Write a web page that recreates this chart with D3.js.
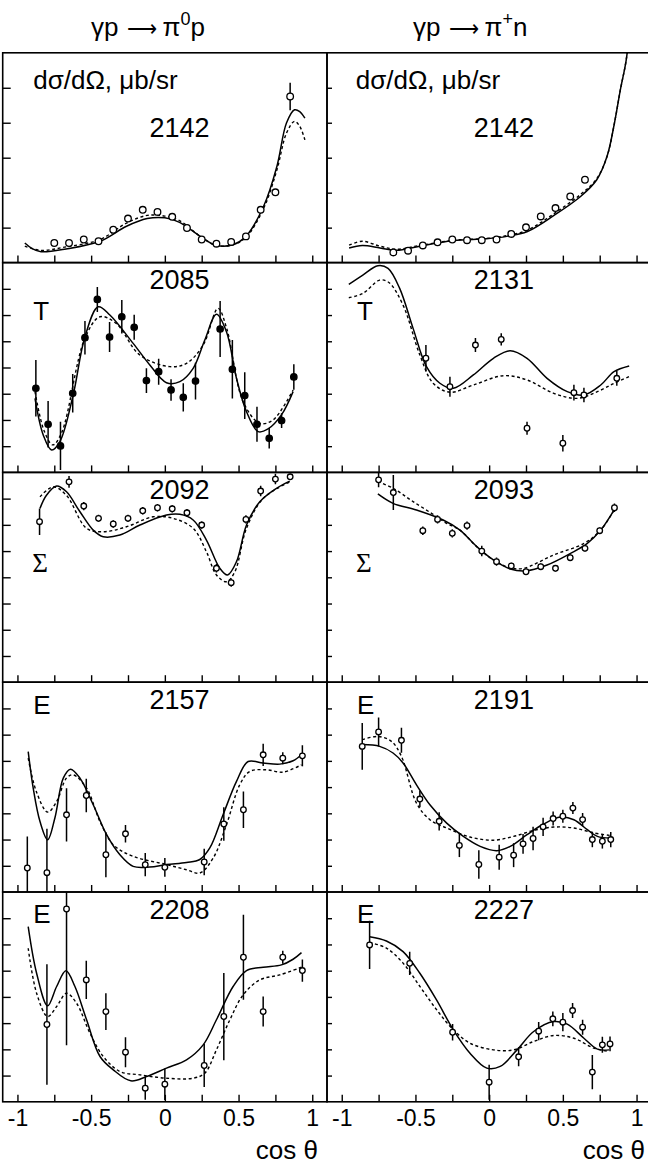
<!DOCTYPE html>
<html>
<head>
<meta charset="utf-8">
<script src="https://cdn.jsdelivr.net/npm/d3@7"></script>
<style>
body { margin: 0; background: #fff; }
svg { display: block; font-family: "Liberation Sans", Arial, sans-serif; }
</style>
</head>
<body>
<svg id="chart" width="648" height="1166"></svg>
<script>
// ---- data (x = cos theta) ----

// gamma p -> pi0 p, dsigma/dOmega, W = 2142
const dsPi0X = [-0.75,-0.65,-0.55,-0.45,-0.35,-0.25,-0.15,-0.05,0.05,0.15,0.25,0.35,0.45,0.55,0.65,0.75,0.85];
const dsPi0Y = [0.056,0.056,0.066,0.061,0.094,0.126,0.151,0.145,0.131,0.099,0.066,0.054,0.059,0.075,0.151,0.201,0.475];
const dsPi0E = [0.005,0.005,0.005,0.005,0.005,0.005,0.005,0.005,0.005,0.005,0.005,0.005,0.005,0.005,0.006,0.008,0.039];
const dsPi0Solid = [[-0.95,0.056],[-0.9,0.04],[-0.84,0.031],[-0.67,0.039],[-0.44,0.061],[-0.26,0.104],[-0.12,0.126],[0,0.128],[0.1,0.115],[0.24,0.075],[0.35,0.049],[0.46,0.051],[0.55,0.075],[0.67,0.161],[0.76,0.275],[0.825,0.399],[0.88,0.437],[0.915,0.432],[0.95,0.413]];
const dsPi0Dash = [[-0.95,0.047],[-0.84,0.035],[-0.67,0.045],[-0.44,0.066],[-0.26,0.113],[-0.12,0.135],[0,0.133],[0.1,0.12],[0.24,0.075],[0.35,0.049],[0.46,0.051],[0.55,0.072],[0.67,0.155],[0.76,0.265],[0.825,0.37],[0.88,0.404],[0.915,0.39],[0.95,0.351]];

// gamma p -> pi+ n, dsigma/dOmega, W = 2142
const dsPipX = [-0.65,-0.55,-0.45,-0.35,-0.25,-0.15,-0.05,0.05,0.15,0.25,0.35,0.45,0.55,0.65];
const dsPipY = [0.029,0.034,0.049,0.058,0.066,0.064,0.064,0.066,0.082,0.101,0.132,0.156,0.189,0.237];
const dsPipE = [0.004,0.004,0.004,0.004,0.004,0.004,0.004,0.004,0.004,0.005,0.005,0.006,0.006,0.007];
const dsPipSolid = [[-0.95,0.042],[-0.86,0.049],[-0.74,0.042],[-0.63,0.035],[-0.47,0.047],[-0.24,0.063],[-0.02,0.068],[0.12,0.075],[0.26,0.089],[0.44,0.135],[0.62,0.189],[0.73,0.237],[0.8,0.304],[0.85,0.399],[0.89,0.494],[0.93,0.58],[0.96,0.7]];
const dsPipDash = [[-0.95,0.05],[-0.86,0.061],[-0.74,0.047],[-0.63,0.038],[-0.47,0.049],[-0.24,0.064],[-0.02,0.069],[0.12,0.077],[0.26,0.093],[0.44,0.14],[0.62,0.195],[0.73,0.24],[0.8,0.304],[0.85,0.399],[0.89,0.494],[0.93,0.58],[0.96,0.7]];

// T, pi0 p, 2085
const tPi0X = [-0.875,-0.792,-0.708,-0.625,-0.542,-0.458,-0.375,-0.292,-0.208,-0.125,-0.042,0.042,0.125,0.208,0.375,0.458,0.542,0.625,0.708,0.792,0.875];
const tPi0Y = [-0.198,-0.541,-0.748,-0.246,0.284,0.649,0.29,0.484,0.383,-0.125,-0.04,-0.214,-0.284,-0.129,0.367,-0.017,-0.268,-0.541,-0.675,-0.506,-0.09];
const tPi0E = [0.27,0.222,0.23,0.183,0.159,0.119,0.143,0.159,0.119,0.119,0.124,0.103,0.135,0.175,0.267,0.278,0.222,0.167,0.098,0.071,0.122];
const tPi0Solid = [[-0.881,-0.294],[-0.825,-0.643],[-0.768,-0.786],[-0.712,-0.706],[-0.622,-0.262],[-0.542,0.293],[-0.452,0.579],[-0.373,0.5],[-0.215,0.23],[-0.102,0.024],[0.011,-0.145],[0.102,-0.135],[0.192,-0.008],[0.271,0.262],[0.35,0.507],[0.418,0.341],[0.486,-0.103],[0.554,-0.421],[0.633,-0.611],[0.7,-0.586],[0.791,-0.452],[0.87,-0.23]];
const tPi0Dash = [[-0.881,-0.23],[-0.82,-0.6],[-0.76,-0.738],[-0.7,-0.62],[-0.542,0.28],[-0.44,0.484],[-0.33,0.42],[-0.17,0.119],[0.034,0.008],[0.147,0.04],[0.26,0.214],[0.361,0.564],[0.42,0.37],[0.531,-0.326],[0.644,-0.532],[0.734,-0.5],[0.87,-0.214]];

// T, pi+ n, 2131
const tPipX = [-0.429,-0.266,-0.093,0.082,0.257,0.5,0.575,0.643,0.866];
const tPipY = [0.088,-0.183,0.214,0.268,-0.579,-0.722,-0.24,-0.262,-0.103];
const tPipE = [0.127,0.095,0.067,0.059,0.063,0.079,0.075,0.07,0.07];
const tPipSolid = [[-0.952,0.792],[-0.857,0.881],[-0.755,0.97],[-0.686,0.945],[-0.607,0.754],[-0.516,0.373],[-0.425,0.008],[-0.334,-0.15],[-0.243,-0.198],[-0.107,-0.071],[0.029,0.088],[0.143,0.16],[0.257,0.088],[0.393,-0.103],[0.53,-0.23],[0.643,-0.262],[0.757,-0.167],[0.847,-0.04],[0.95,0.014]];
const tPipDash = [[-0.952,0.665],[-0.857,0.706],[-0.743,0.833],[-0.68,0.81],[-0.584,0.595],[-0.47,0.119],[-0.38,-0.15],[-0.266,-0.236],[-0.107,-0.167],[0.097,-0.078],[0.257,-0.119],[0.438,-0.246],[0.598,-0.294],[0.734,-0.23],[0.847,-0.151],[0.95,-0.087]];

// Sigma, pi0 p, 2092
const sPi0X = [-0.85,-0.65,-0.55,-0.45,-0.35,-0.25,-0.15,-0.05,0.05,0.15,0.25,0.35,0.45,0.55,0.65,0.75,0.85];
const sPi0Y = [0.53,0.91,0.679,0.562,0.508,0.562,0.634,0.663,0.653,0.615,0.498,0.086,-0.051,0.552,0.822,0.936,0.958];
const sPi0E = [0.127,0.056,0.04,0.035,0.035,0.035,0.035,0.035,0.035,0.035,0.035,0.04,0.04,0.04,0.05,0.05,0.03];
const sPi0Solid = [[-0.847,0.657],[-0.802,0.784],[-0.734,0.87],[-0.667,0.815],[-0.576,0.625],[-0.486,0.45],[-0.418,0.387],[-0.305,0.403],[-0.169,0.498],[0.011,0.593],[0.102,0.6],[0.192,0.546],[0.282,0.355],[0.373,0.086],[0.425,0.022],[0.486,0.149],[0.554,0.498],[0.644,0.72],[0.757,0.848],[0.847,0.917]];
const sPi0Dash = [[-0.847,0.768],[-0.757,0.863],[-0.667,0.78],[-0.531,0.467],[-0.418,0.434],[-0.26,0.482],[-0.079,0.577],[0.056,0.562],[0.192,0.467],[0.282,0.244],[0.35,0.022],[0.418,-0.042],[0.475,0.053],[0.554,0.467],[0.667,0.752],[0.847,0.91]];

// Sigma, pi+ n, 2093
const sPipX = [-0.75,-0.65,-0.45,-0.35,-0.25,-0.15,-0.05,0.05,0.15,0.25,0.35,0.45,0.55,0.65,0.75,0.85];
const sPipY = [0.929,0.808,0.444,0.552,0.419,0.493,0.25,0.149,0.108,0.053,0.101,0.086,0.187,0.276,0.444,0.663];
const sPipE = [0.071,0.167,0.04,0.04,0.04,0.04,0.05,0.04,0.03,0.03,0.03,0.03,0.03,0.03,0.03,0.04];
const sPipSolid = [[-0.755,0.795],[-0.652,0.705],[-0.493,0.641],[-0.312,0.546],[-0.198,0.45],[-0.084,0.292],[0.029,0.165],[0.143,0.079],[0.245,0.06],[0.393,0.117],[0.552,0.228],[0.666,0.323],[0.757,0.45],[0.847,0.64]];
const sPipDash = [[-0.755,0.912],[-0.652,0.849],[-0.516,0.722],[-0.357,0.579],[-0.288,0.514],[-0.198,0.45],[-0.084,0.292],[0.029,0.165],[0.143,0.09],[0.234,0.086],[0.438,0.213],[0.643,0.323],[0.757,0.45],[0.847,0.64]];

// E, pi0 p, 2157
const e1Pi0X = [-0.933,-0.8,-0.667,-0.533,-0.4,-0.267,-0.133,0,0.267,0.4,0.533,0.667,0.8,0.933];
const e1Pi0Y = [-0.771,-0.816,-0.264,-0.08,-0.645,-0.445,-0.74,-0.765,-0.714,-0.352,-0.216,0.308,0.276,0.298];
const e1Pi0E = [0.3,0.42,0.254,0.159,0.214,0.084,0.111,0.09,0.127,0.159,0.175,0.106,0.057,0.1];
const e1Pi0Solid = [[-0.927,0.339],[-0.893,-0.01],[-0.847,-0.328],[-0.795,-0.502],[-0.746,-0.294],[-0.689,0.086],[-0.64,0.171],[-0.576,0.086],[-0.486,-0.168],[-0.395,-0.454],[-0.305,-0.645],[-0.215,-0.756],[-0.102,-0.762],[0.011,-0.738],[0.147,-0.718],[0.237,-0.69],[0.305,-0.58],[0.395,-0.263],[0.486,0.054],[0.565,0.244],[0.667,0.229],[0.78,0.219],[0.87,0.251],[0.927,0.308]];
const e1Pi0Dash = [[-0.927,0.276],[-0.872,-0.042],[-0.795,-0.238],[-0.734,-0.137],[-0.667,0.086],[-0.622,0.117],[-0.531,-0.01],[-0.44,-0.328],[-0.35,-0.55],[-0.215,-0.66],[0.011,-0.738],[0.147,-0.788],[0.237,-0.819],[0.328,-0.676],[0.418,-0.359],[0.508,0.022],[0.576,0.149],[0.69,0.165],[0.802,0.143],[0.927,0.213]];

// E, pi+ n, 2191
const e1PipX = [-0.861,-0.75,-0.595,-0.47,-0.339,-0.202,-0.07,0.068,0.166,0.23,0.298,0.366,0.434,0.5,0.568,0.634,0.7,0.768,0.825];
const e1PipY = [0.388,0.526,0.446,-0.114,-0.326,-0.556,-0.738,-0.668,-0.649,-0.541,-0.49,-0.379,-0.3,-0.278,-0.2,-0.31,-0.5,-0.516,-0.5];
const e1PipE = [0.222,0.138,0.119,0.079,0.087,0.111,0.135,0.119,0.114,0.095,0.111,0.087,0.067,0.063,0.057,0.063,0.073,0.07,0.073];
const e1PipSolid = [[-0.861,0.405],[-0.743,0.388],[-0.652,0.325],[-0.584,0.23],[-0.493,0.022],[-0.402,-0.168],[-0.288,-0.343],[-0.175,-0.47],[-0.061,-0.565],[0.052,-0.606],[0.143,-0.565],[0.257,-0.454],[0.37,-0.352],[0.484,-0.286],[0.575,-0.311],[0.666,-0.406],[0.734,-0.47],[0.825,-0.486]];
const e1PipDash = [[-0.861,0.452],[-0.755,0.483],[-0.663,0.436],[-0.595,0.293],[-0.493,-0.152],[-0.402,-0.311],[-0.288,-0.39],[-0.13,-0.476],[0.029,-0.506],[0.166,-0.47],[0.302,-0.413],[0.438,-0.381],[0.575,-0.39],[0.711,-0.437],[0.825,-0.462]];

// E, pi0 p, 2208
const e2Pi0X = [-0.8,-0.667,-0.533,-0.4,-0.267,-0.133,0,0.267,0.4,0.533,0.667,0.8,0.933];
const e2Pi0Y = [-0.263,0.838,0.162,-0.14,-0.527,-0.87,-0.832,-0.654,-0.187,0.378,-0.14,0.378,0.251];
const e2Pi0E = [0.575,1.3,0.183,0.175,0.143,0.11,0.15,0.206,0.416,0.406,0.143,0.063,0.106];
const e2Pi0Solid = [[-0.927,0.67],[-0.87,0.226],[-0.795,-0.085],[-0.734,0.099],[-0.671,0.25],[-0.61,0.099],[-0.531,-0.218],[-0.44,-0.568],[-0.35,-0.695],[-0.231,-0.8],[-0.124,-0.759],[0.011,-0.679],[0.147,-0.6],[0.26,-0.457],[0.35,-0.218],[0.463,0.099],[0.554,0.251],[0.667,0.283],[0.791,0.305],[0.87,0.359],[0.927,0.422]];
const e2Pi0Dash = [[-0.927,0.464],[-0.87,0.035],[-0.795,-0.187],[-0.734,-0.092],[-0.667,0.035],[-0.599,-0.06],[-0.508,-0.346],[-0.418,-0.568],[-0.305,-0.711],[-0.169,-0.743],[0.011,-0.775],[0.192,-0.775],[0.271,-0.727],[0.35,-0.505],[0.441,-0.219],[0.531,0.019],[0.644,0.162],[0.78,0.21],[0.927,0.283]];

// E, pi+ n, 2227
const e2PipX = [-0.811,-0.539,-0.248,0,0.2,0.336,0.432,0.5,0.566,0.634,0.7,0.768,0.82];
const e2PipY = [0.495,0.32,-0.337,-0.813,-0.571,-0.327,-0.209,-0.241,-0.13,-0.289,-0.717,-0.457,-0.448];
const e2PipE = [0.23,0.111,0.079,0.167,0.09,0.087,0.071,0.087,0.071,0.071,0.163,0.076,0.071];
const e2PipSolid = [[-0.811,0.574],[-0.697,0.533],[-0.584,0.432],[-0.47,0.225],[-0.357,-0.029],[-0.243,-0.314],[-0.13,-0.537],[-0.016,-0.679],[0.075,-0.663],[0.189,-0.505],[0.302,-0.33],[0.438,-0.235],[0.53,-0.26],[0.643,-0.394],[0.734,-0.498],[0.813,-0.505]];
const e2PipDash = [[-0.811,0.519],[-0.697,0.465],[-0.584,0.322],[-0.47,0.1],[-0.357,-0.121],[-0.243,-0.314],[-0.13,-0.441],[0.029,-0.505],[0.166,-0.505],[0.302,-0.425],[0.438,-0.368],[0.575,-0.394],[0.711,-0.489],[0.813,-0.521]];

const colMeson = ["π", "π"];
const colCharge = ["0", "+"];
const colNucleon = ["p", "n"];
const energies = ["2142", "2142", "2085", "2131", "2092", "2093", "2157", "2191", "2208", "2227"];
const xTickLabels = [-1, -0.5, 0, 0.5, 1];
const xTicksAll = [-1, -0.75, -0.5, -0.25, 0, 0.25, 0.5, 0.75, 1];
const dsTicks = [0.1, 0.2, 0.3, 0.4, 0.5];
const polTicks = [-0.75, -0.5, -0.25, 0, 0.25, 0.5, 0.75];

// ---- layout ----
const colX = [[2.7, 327], [327, 651.3]];
const rowTop = 52.8, rowH = 209.8;

const panels = [
  {col: 0, row: 0, ydom: [0, 0.6], yt: dsTicks, X: dsPi0X, Y: dsPi0Y, E: dsPi0E, s: dsPi0Solid, d: dsPi0Dash, fill: false, r: 3.3, obs: "ds", obsDy: 36.2},
  {col: 1, row: 0, ydom: [0, 0.6], yt: dsTicks, X: dsPipX, Y: dsPipY, E: dsPipE, s: dsPipSolid, d: dsPipDash, fill: false, r: 3.3, obs: "ds", obsDy: 36.2},
  {col: 0, row: 1, ydom: [-1, 1], yt: polTicks, X: tPi0X, Y: tPi0Y, E: tPi0E, s: tPi0Solid, d: tPi0Dash, fill: true, r: 3.2, obs: "T", obsDy: 57.4},
  {col: 1, row: 1, ydom: [-1, 1], yt: polTicks, X: tPipX, Y: tPipY, E: tPipE, s: tPipSolid, d: tPipDash, fill: false, r: 2.8, obs: "T", obsDy: 57.4},
  {col: 0, row: 2, ydom: [-1, 1], yt: polTicks, X: sPi0X, Y: sPi0Y, E: sPi0E, s: sPi0Solid, d: sPi0Dash, fill: false, r: 2.8, obs: "Σ", obsDy: 99.3},
  {col: 1, row: 2, ydom: [-1, 1], yt: polTicks, X: sPipX, Y: sPipY, E: sPipE, s: sPipSolid, d: sPipDash, fill: false, r: 2.8, obs: "Σ", obsDy: 99.3},
  {col: 0, row: 3, ydom: [-1, 1], yt: polTicks, X: e1Pi0X, Y: e1Pi0Y, E: e1Pi0E, s: e1Pi0Solid, d: e1Pi0Dash, fill: false, r: 2.8, obs: "E", obsDy: 31.3},
  {col: 1, row: 3, ydom: [-1, 1], yt: polTicks, X: e1PipX, Y: e1PipY, E: e1PipE, s: e1PipSolid, d: e1PipDash, fill: false, r: 2.8, obs: "E", obsDy: 31.3},
  {col: 0, row: 4, ydom: [-1, 1], yt: polTicks, X: e2Pi0X, Y: e2Pi0Y, E: e2Pi0E, s: e2Pi0Solid, d: e2Pi0Dash, fill: false, r: 2.8, obs: "E", obsDy: 31.3},
  {col: 1, row: 4, ydom: [-1, 1], yt: polTicks, X: e2PipX, Y: e2PipY, E: e2PipE, s: e2PipSolid, d: e2PipDash, fill: false, r: 2.8, obs: "E", obsDy: 31.3}
];

const svg = d3.select("#chart");
svg.append("rect").attr("width", 648).attr("height", 1166).attr("fill", "#fff");

panels.forEach((p, i) => {
  const [x0, x1] = colX[p.col];
  const y0 = rowTop + p.row * rowH, y1 = y0 + rowH;
  const x = d3.scaleLinear().domain([-1.1, 1.1]).range([x0, x1]);
  const y = d3.scaleLinear().domain(p.ydom).range([y1, y0]);
  const g = svg.append("g");

  g.append("clipPath").attr("id", "clip" + i)
    .append("rect").attr("x", x0).attr("y", y0).attr("width", x1 - x0).attr("height", y1 - y0);

  // ticks pointing inside
  const xa = g.append("g").attr("transform", `translate(0,${y1})`)
    .call(d3.axisBottom(x).tickValues(xTicksAll).tickSize(-7).tickFormat(""));
  const ya = g.append("g").attr("transform", `translate(${x0},0)`)
    .call(d3.axisLeft(y).tickValues(p.yt).tickSize(p.col == 0 ? -8 : -5).tickFormat(""));
  [xa, ya].forEach(a => {
    a.select(".domain").remove();
    a.selectAll("line").attr("stroke", "#000").attr("stroke-width", 1.4);
  });

  const body = g.append("g").attr("clip-path", `url(#clip${i})`);
  const line = d3.line().x(d => x(d[0])).y(d => y(d[1])).curve(d3.curveCatmullRom.alpha(0.5));

  body.append("path").attr("d", line(p.d)).attr("fill", "none")
    .attr("stroke", "#000").attr("stroke-width", 1.4).attr("stroke-dasharray", "3,2.6");
  body.append("path").attr("d", line(p.s)).attr("fill", "none")
    .attr("stroke", "#000").attr("stroke-width", 1.5);

  const pts = p.X.map((v, k) => ({x: v, y: p.Y[k], e: p.E[k]}));
  body.selectAll("line.err").data(pts).join("line").attr("class", "err")
    .attr("x1", d => x(d.x)).attr("x2", d => x(d.x))
    .attr("y1", d => y(d.y - d.e)).attr("y2", d => y(d.y + d.e))
    .attr("stroke", "#000").attr("stroke-width", 1.5);
  body.selectAll("circle").data(pts).join("circle")
    .attr("cx", d => x(d.x)).attr("cy", d => y(d.y)).attr("r", p.r)
    .attr("fill", p.fill ? "#000" : "#fff").attr("stroke", "#000").attr("stroke-width", 1.3);

  // frame
  g.append("rect").attr("x", x0).attr("y", y0).attr("width", x1 - x0).attr("height", y1 - y0)
    .attr("fill", "none").attr("stroke", "#000").attr("stroke-width", 1.6);

  // energy label
  g.append("text").attr("x", x(0.1)).attr("y", p.row == 0 ? y0 + 84 : y0 + 26.8)
    .attr("text-anchor", "middle").attr("font-size", 27).text(energies[i]);

  // observable label
  const lx = p.col == 0 ? x0 + 30.5 : x0 + 30;
  if (p.obs == "ds") {
    g.append("text").attr("x", lx - (p.col == 0 ? 0 : 1.3)).attr("y", y0 + p.obsDy)
      .attr("font-size", 26).text("dσ/dΩ, μb/sr");
  } else if (p.obs == "Σ") {
    g.append("text").attr("x", lx - 1).attr("y", y0 + p.obsDy).attr("font-size", 27)
      .attr("font-family", "'Liberation Serif', 'Times New Roman', serif").text("Σ");
  } else {
    g.append("text").attr("x", lx).attr("y", y0 + p.obsDy).attr("font-size", 26).text(p.obs);
  }

  // bottom row: tick labels and axis title
  if (p.row == 4) {
    const la = g.append("g").attr("transform", `translate(0,${y1})`)
      .call(d3.axisBottom(x).tickValues(xTickLabels).tickSize(0).tickPadding(8).tickFormat(d => String(d)));
    la.select(".domain").remove();
    la.selectAll("text").attr("font-size", 23).attr("fill", "#000")
      .attr("font-family", "'Liberation Sans', Arial, sans-serif");
    g.append("text").attr("x", p.col == 0 ? 318 : 645).attr("y", 1159)
      .attr("text-anchor", "end").attr("font-size", 26).text("cos θ");
  }
});

// column titles
[91, 413].forEach((tx0, k) => {
  const tx = svg.append("text").attr("x", tx0).attr("y", 36).attr("font-size", 26);
  tx.append("tspan").text("γp");
  tx.append("tspan").attr("dx", 9).attr("font-family", "'DejaVu Sans', sans-serif")
    .attr("font-size", 21).attr("font-weight", 300).text("⟶");
  tx.append("tspan").attr("dx", 5).text(colMeson[k]);
  tx.append("tspan").attr("font-size", 18).attr("dy", -11).text(colCharge[k]);
  tx.append("tspan").attr("dy", 11).text(colNucleon[k]);
});
</script>
</body>
</html>
